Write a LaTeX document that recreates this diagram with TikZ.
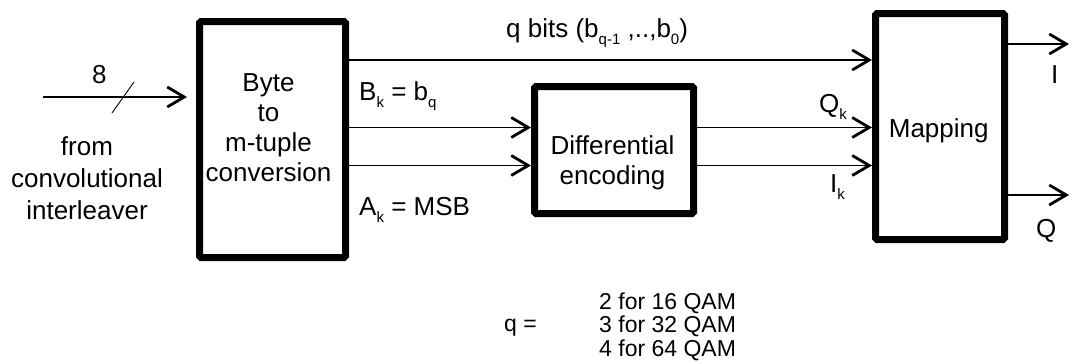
\documentclass[tikz,border=0pt]{standalone}
\usepackage{fontspec}
\setmainfont{Liberation Sans}
\usetikzlibrary{arrows.meta}
\usetikzlibrary{calc}
\newcommand{\lowsub}[1]{\raisebox{-0.3em}{\fontsize{15}{15}\selectfont #1}}
\tikzset{
  block/.style={draw, line width=7pt, rounded corners=1.5pt, inner sep=0pt},
  signal/.style={line width=1.2pt, -{Straight Barb[length=17pt,width=20pt,line width=2.8pt]}},
  lbl/.style={inner sep=0pt, anchor=base west},
  blocktext/.style={inner sep=0pt, align=center},
  qamtext/.style={inner sep=0pt, anchor=base west, font=\fontsize{23}{23.5}\selectfont},
}

\begin{document}
\begin{tikzpicture}[x=1pt, y=-1pt, font=\fontsize{26}{30}\selectfont]
      \useasboundingbox (0,0) rectangle (1071,364);
      \node[block, minimum width=146pt, minimum height=236pt] (byteconv) at (272.5,139.5) {};
      \node[block, minimum width=159pt, minimum height=127pt] (diffenc)  at (614,150) {};
      \node[block, minimum width=129pt, minimum height=226pt] (mapping)  at (940,126.5) {};
      \node[blocktext] (bytetxt) at (268.5,128) {Byte\\to\\m-tuple\\conversion};
      \node[blocktext] (difftxt) at (612.5,162.5) {Differential\\encoding};
      \node[lbl, anchor=base] (maptxt) at (938.7,137) {Mapping};
      \node[blocktext, font=\fontsize{26}{32}\selectfont] (fromtxt) at (87,178) {from\\convolutional\\interleaver};
      \coordinate (inp) at (43,97);
      \coordinate (inq) at (187,97);
      \coordinate (qbits) at (0,60);
      \coordinate (bline) at (0,127.5);
      \coordinate (aline) at (0,165.5);
      \coordinate (iout) at (1069,44);
      \coordinate (qout) at (1069,195);
      \draw[signal] (inp) -- (inq);
      \draw[line width=0.9pt] (112,113) -- (134,82);
      \draw[signal] (qbits -| byteconv.east) -- (qbits -| mapping.west);
      \draw[signal] (bline -| byteconv.east) -- (bline -| diffenc.west);
      \draw[signal] (aline -| byteconv.east) -- (aline -| diffenc.west);
      \draw[signal] (bline -| diffenc.east)  -- (bline -| mapping.west);
      \draw[signal] (aline -| diffenc.east)  -- (aline -| mapping.west);
      \draw[signal] (iout -| mapping.east)   -- (iout);
      \draw[signal] (qout -| mapping.east)   -- (qout);
      \node[lbl] (eightlbl) at (92,83) {8};
      \node[lbl] (qbitslbl) at (506,37) {q bits (b\lowsub{q-1} ,..,b\lowsub{0})};
      \node[lbl] (bklbl) at (359,100) {B\lowsub{k} = b\lowsub{q}};
      \node[lbl] (aklbl) at (359,215) {A\lowsub{k} = MSB};
      \node[lbl] (qklbl) at (819,112) {Q\lowsub{k}};
      \node[lbl] (iklbl) at (830,192) {I\lowsub{k}};
      \node[lbl] (ilbl) at (1051,83) {I};
      \node[lbl] (qlbl) at (1036,237) {Q};
      \node[qamtext] (qeq)  at (504,331) {q =};
      \node[qamtext] (qam1) at (599,309) {2 for 16 QAM};
      \node[qamtext] (qam2) at (599,332.5) {3 for 32 QAM};
      \node[qamtext] (qam3) at (599,356) {4 for 64 QAM};
\end{tikzpicture}
\end{document}
